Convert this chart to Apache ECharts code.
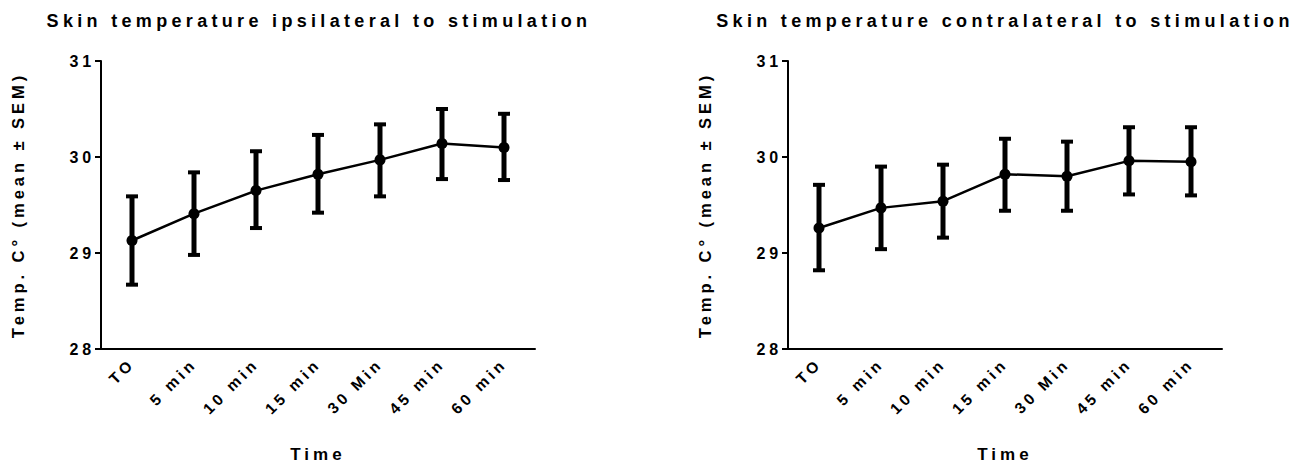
<!DOCTYPE html>
<html>
<head>
<meta charset="utf-8">
<script src="https://cdn.jsdelivr.net/npm/echarts@6/dist/echarts.min.js"></script>
<style>
html, body { margin: 0; padding: 0; background: #fff; }
#main { width: 1309px; height: 468px; }
/* the original export has wide character spacing on every label */
#main text { letter-spacing: 0.24em; }
</style>
</head>
<body>
<div id="main"></div>
<script>
var times = ['TO', '5 min', '10 min', '15 min', '30 Min', '45 min', '60 min'];

// ipsilateral side: mean, lower and upper end of the SEM bar
var ipsiMean = [29.13, 29.41, 29.65, 29.82, 29.97, 30.14, 30.10];
var ipsiLow  = [28.67, 28.98, 29.26, 29.42, 29.59, 29.77, 29.76];
var ipsiHigh = [29.59, 29.84, 30.06, 30.23, 30.34, 30.50, 30.45];

// contralateral side
var contraMean = [29.26, 29.47, 29.54, 29.82, 29.80, 29.96, 29.95];
var contraLow  = [28.82, 29.04, 29.16, 29.44, 29.44, 29.61, 29.60];
var contraHigh = [29.71, 29.90, 29.92, 30.19, 30.16, 30.31, 30.31];

var yMin = 28, yMax = 31, yStep = 1;

var font = "'Liberation Sans', Arial, sans-serif";

var myChart = echarts.init(document.getElementById('main'), null, { renderer: 'svg' });

function barData(low, high) {
	var out = [];
	for (var i = 0; i < low.length; i++) {
		out.push([i, low[i], high[i]]);
	}
	return out;
}

function renderErrorBar(params, api) {
	var x = api.value(0);
	var lo = api.coord([x, api.value(1)]);
	var hi = api.coord([x, api.value(2)]);
	var half = 6;
	var capStyle = { stroke: '#000', lineWidth: 4 };
	return {
		type: 'group',
		children: [
			{ type: 'line', shape: { x1: hi[0], y1: hi[1], x2: lo[0], y2: lo[1] }, style: { stroke: '#000', lineWidth: 5 } },
			{ type: 'line', shape: { x1: hi[0] - half, y1: hi[1], x2: hi[0] + half, y2: hi[1] }, style: capStyle },
			{ type: 'line', shape: { x1: lo[0] - half, y1: lo[1], x2: lo[0] + half, y2: lo[1] }, style: capStyle }
		]
	};
}

function xAxisFor(idx) {
	return {
		type: 'category',
		gridIndex: idx,
		data: times,
		boundaryGap: true,
		name: 'Time',
		nameLocation: 'middle',
		nameGap: 97,
		nameTextStyle: { color: '#000', fontSize: 17, fontWeight: 'bold', fontFamily: font },
		axisLine: { lineStyle: { color: '#000', width: 2 } },
		axisTick: { alignWithLabel: true, length: 6, lineStyle: { color: '#000', width: 2 } },
		axisLabel: { rotate: 45, interval: 0, margin: 12, color: '#000', fontSize: 15.5, fontWeight: 'bold', fontFamily: font },
		splitLine: { show: false }
	};
}

function yAxisFor(idx) {
	return {
		type: 'value',
		gridIndex: idx,
		min: yMin,
		max: yMax,
		interval: yStep,
		name: 'Temp. C° (mean ± SEM)',
		nameLocation: 'middle',
		nameGap: 75,
		nameTextStyle: { color: '#000', fontSize: 16.5, fontWeight: 'bold', fontFamily: font },
		axisLine: { show: true, lineStyle: { color: '#000', width: 2 } },
		axisTick: { show: true, length: 6, lineStyle: { color: '#000', width: 2 } },
		axisLabel: { color: '#000', fontSize: 16, fontWeight: 'bold', fontFamily: font, margin: 6 },
		splitLine: { show: false }
	};
}

function meanSeries(idx, data) {
	return {
		type: 'line',
		xAxisIndex: idx,
		yAxisIndex: idx,
		data: data,
		symbol: 'circle',
		symbolSize: 11,
		itemStyle: { color: '#000' },
		lineStyle: { color: '#000', width: 2.5 },
		z: 3,
		silent: true
	};
}

function errorSeries(idx, low, high) {
	return {
		type: 'custom',
		xAxisIndex: idx,
		yAxisIndex: idx,
		data: barData(low, high),
		encode: { x: 0, y: [1, 2] },
		renderItem: renderErrorBar,
		z: 2,
		silent: true
	};
}

var option = {
	backgroundColor: '#fff',
	animation: false,
	title: [
		{
			text: 'Skin temperature ipsilateral to stimulation',
			left: 314,
			top: 7,
			textAlign: 'center',
			textStyle: { color: '#000', fontSize: 18, fontWeight: 'bold', fontFamily: font }
		},
		{
			text: 'Skin temperature contralateral to stimulation',
			left: 1000,
			top: 7,
			textAlign: 'center',
			textStyle: { color: '#000', fontSize: 18, fontWeight: 'bold', fontFamily: font }
		}
	],
	grid: [
		{ left: 101, top: 61, width: 434, height: 288 },
		{ left: 788, top: 61, width: 434, height: 288 }
	],
	xAxis: [xAxisFor(0), xAxisFor(1)],
	yAxis: [yAxisFor(0), yAxisFor(1)],
	series: [
		errorSeries(0, ipsiLow, ipsiHigh),
		meanSeries(0, ipsiMean),
		errorSeries(1, contraLow, contraHigh),
		meanSeries(1, contraMean)
	]
};

myChart.setOption(option);
window.addEventListener('resize', function () {
	myChart.resize();
});
</script>
</body>
</html>
